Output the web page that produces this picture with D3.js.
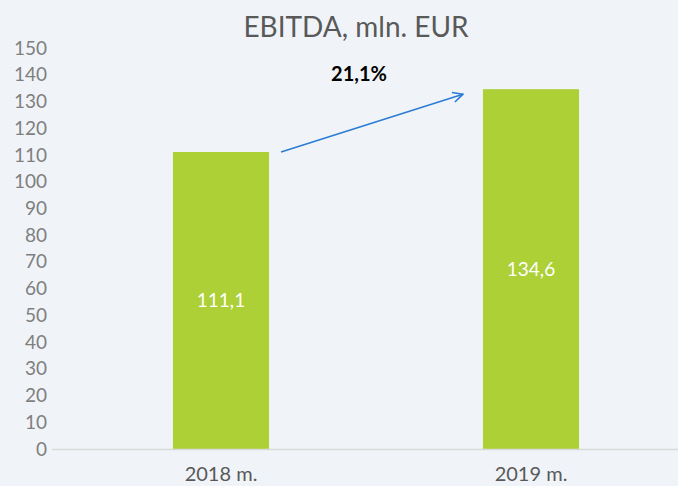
<!DOCTYPE html>
<html>
<head>
<meta charset="utf-8">
<script src="https://cdn.jsdelivr.net/npm/d3@7"></script>
<style>
  body { margin: 0; background: #f0f4f8; }
  svg { display: block; font-family: Lato, "Open Sans", sans-serif; }
</style>
</head>
<body>
<div id="chart-area"></div>
<script>
var categories = ["2018 m.", "2019 m."];
var values = [111.1, 134.6];
var valueLabels = ["111,1", "134,6"];
var yTicks = [0, 10, 20, 30, 40, 50, 60, 70, 80, 90, 100, 110, 120, 130, 140, 150];
var growthLabel = "21,1%";

var width = 678, height = 486;

var svg = d3.select("#chart-area").append("svg")
    .attr("width", width)
    .attr("height", height);

svg.append("rect").attr("width", width).attr("height", height).attr("fill", "#f0f4f8");

var y = d3.scaleLinear().domain([0, 150]).range([449, 48]);
var x = d3.scaleBand().domain(categories).range([66, 686]).paddingInner(0.69).paddingOuter(0.345);

// title
svg.append("text")
    .attr("x", 356)
    .attr("y", 37)
    .attr("text-anchor", "middle")
    .attr("font-size", "28px")
    .attr("fill", "#595959")
    .text("EBITDA, mln. EUR");

// y axis labels
var leftAxis = d3.axisLeft(y).tickValues(yTicks).tickSize(0).tickPadding(0);
var ga = svg.append("g")
    .attr("transform", "translate(47,0)")
    .call(leftAxis);
ga.select(".domain").remove();
ga.selectAll("text")
    .attr("font-size", "19px")
    .attr("font-family", "Lato, 'Open Sans', sans-serif")
    .attr("fill", "#7f7f7f");

// bars
svg.selectAll("rect.bar")
    .data(values)
    .enter().append("rect")
    .attr("class", "bar")
    .attr("x", (d, i) => x(categories[i]))
    .attr("y", d => y(d))
    .attr("width", x.bandwidth())
    .attr("height", d => y(0) - y(d))
    .attr("fill", "#acd036");

// baseline
svg.append("line")
    .attr("x1", 52).attr("x2", 678)
    .attr("y1", y(0) + 0.5).attr("y2", y(0) + 0.5)
    .attr("stroke", "#d9d9d9")
    .attr("stroke-width", 1.5);

// value labels
svg.selectAll("text.val")
    .data(values)
    .enter().append("text")
    .attr("class", "val")
    .attr("x", (d, i) => x(categories[i]) + x.bandwidth() / 2)
    .attr("y", d => y(d / 2) + 7)
    .attr("text-anchor", "middle")
    .attr("font-size", "19px")
    .attr("fill", "#ffffff")
    .text((d, i) => valueLabels[i]);

// x axis labels
var bottomAxis = d3.axisBottom(x).tickSize(0).tickPadding(0);
var gb = svg.append("g")
    .attr("transform", "translate(0,467)")
    .call(bottomAxis);
gb.select(".domain").remove();
gb.selectAll("text")
    .attr("font-size", "20px")
    .attr("font-family", "Lato, 'Open Sans', sans-serif")
    .attr("fill", "#595959");

// growth arrow
svg.append("defs").append("marker")
    .attr("id", "arrow")
    .attr("viewBox", "0 0 12 12")
    .attr("refX", 11).attr("refY", 6)
    .attr("markerWidth", 12).attr("markerHeight", 12)
    .attr("markerUnits", "userSpaceOnUse")
    .attr("orient", "auto")
    .append("path")
    .attr("d", "M1,1 L11,6 L1,11")
    .attr("fill", "none")
    .attr("stroke", "#2b7cd3")
    .attr("stroke-width", 1.6);

var x0 = x(categories[0]) + x.bandwidth() + 12;
var x1 = x(categories[1]) - 20;
svg.append("line")
    .attr("x1", x0).attr("y1", y(values[0]))
    .attr("x2", x1).attr("y2", y(values[1]) + 5)
    .attr("stroke", "#2b7cd3")
    .attr("stroke-width", 1.6)
    .attr("marker-end", "url(#arrow)");

svg.append("text")
    .attr("x", 359)
    .attr("y", 81)
    .attr("text-anchor", "middle")
    .attr("font-size", "20px")
    .attr("font-weight", "bold")
    .attr("fill", "#000000")
    .text(growthLabel);
</script>
</body>
</html>
